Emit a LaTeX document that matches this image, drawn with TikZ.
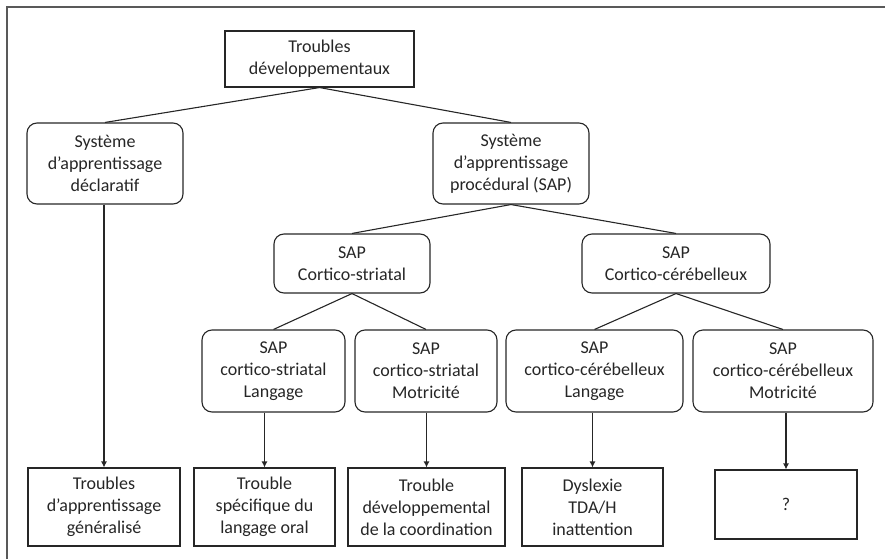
\documentclass[tikz,border=0pt]{standalone}
\usepackage{fontspec}
\setmainfont{Carlito}
\usetikzlibrary{arrows.meta}
\tikzset{
  base/.style={draw=black!85, line width=1.1pt, text=black!85, align=center,
    inner sep=0pt, font=\fontsize{18}{22}\selectfont},
  sqbox/.style={base, rectangle},
  rbox/.style={base, rectangle, rounded corners=10pt},
  link/.style={draw=black!85, line width=1.1pt},
  arrowlink/.style={link, -{Latex[length=6pt,width=6pt]}},
  frameline/.style={draw=black!65, line width=2pt}
}
\begin{document}
\begin{tikzpicture}[x=1pt,y=-1pt]
  \useasboundingbox (0,0) rectangle (885,559);
  % outer frame (left and top edges)
  \draw[frameline] (7,559) -- (7,7) -- (885,7);

  % level 0
  \node[sqbox, minimum width=189, minimum height=56] (top) at (319.5,59)
    {Troubles\\développementaux};

  % level 1
  \node[rbox, minimum width=156, minimum height=81] (decl) at (105,163.5)
    {Système\\d'apprentissage\\déclaratif};
  \node[rbox, minimum width=156, minimum height=81] (proc) at (511,163.5)
    {Système\\d'apprentissage\\procédural (SAP)};

  % level 2
  \node[rbox, minimum width=156, minimum height=59] (str) at (352,263.5)
    {SAP\\Cortico-striatal};
  \node[rbox, minimum width=188, minimum height=59] (cer) at (676,263.5)
    {SAP\\Cortico-cérébelleux};

  % level 3
  \node[rbox, minimum width=143, minimum height=82] (sl) at (273.5,371)
    {SAP\\cortico-striatal\\Langage};
  \node[rbox, minimum width=142, minimum height=82] (sm) at (426,371)
    {SAP\\cortico-striatal\\Motricité};
  \node[rbox, minimum width=177, minimum height=82] (cl) at (594.5,371)
    {SAP\\cortico-cérébelleux\\Langage};
  \node[rbox, minimum width=180, minimum height=82] (cm) at (783,371)
    {SAP\\cortico-cérébelleux\\Motricité};

  % disorders
  \node[sqbox, minimum width=152, minimum height=78] (b1) at (104,507)
    {Troubles\\d'apprentissage\\généralisé};
  \node[sqbox, minimum width=141, minimum height=78] (b2) at (264.5,507)
    {Trouble\\spécifique du\\langage oral};
  \node[sqbox, minimum width=157, minimum height=78] (b3) at (426.5,507)
    {Trouble\\développemental\\de la coordination};
  \node[sqbox, minimum width=141, minimum height=78] (b4) at (592.5,507)
    {Dyslexie\\TDA/H\\inattention};
  \node[sqbox, minimum width=142, minimum height=69] (b5) at (786,504.5)
    {?};

  % tree links
  \draw[link] (top.south) -- (decl.north);
  \draw[link] (top.south) -- (proc.north);
  \draw[link] (proc.south) -- (str.north);
  \draw[link] (proc.south) -- (cer.north);
  \draw[link] (str.south) -- (sl.north);
  \draw[link] (str.south) -- (sm.north);
  \draw[link] (cer.south) -- (cl.north);
  \draw[link] (cer.south) -- (cm.north);

  % arrows to disorders
  \draw[arrowlink] (decl.south -| b1.north) -- (b1.north);
  \draw[arrowlink] (sl.south -| b2.north) -- (b2.north);
  \draw[arrowlink] (sm.south -| b3.north) -- (b3.north);
  \draw[arrowlink] (cl.south -| b4.north) -- (b4.north);
  \draw[arrowlink] (cm.south -| b5.north) -- (b5.north);
\end{tikzpicture}
\end{document}
